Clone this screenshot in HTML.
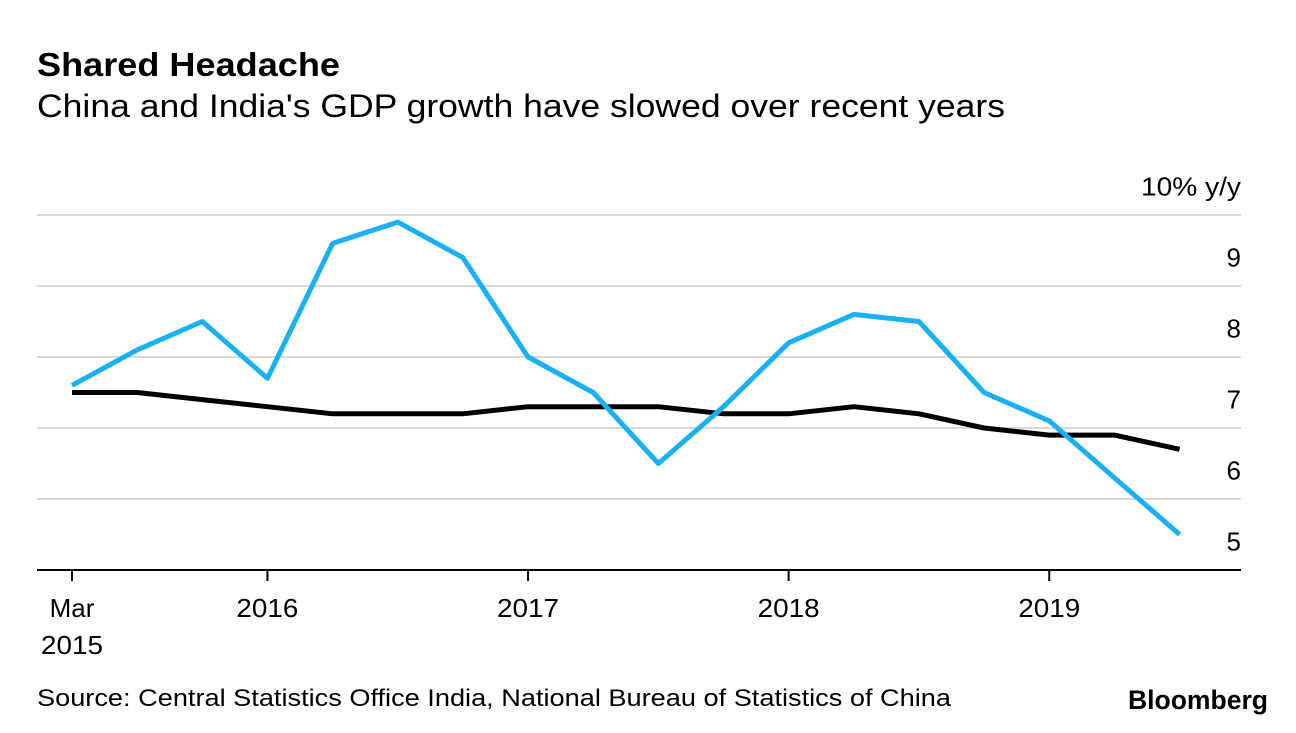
<!DOCTYPE html>
<html><head><meta charset="utf-8"><style>
body{margin:0;background:#fff;font-family:"Liberation Sans",sans-serif;}
svg text{font-family:"Liberation Sans",sans-serif;}
</style></head><body>
<svg width="1296" height="728" xmlns="http://www.w3.org/2000/svg">
<text x="37" y="76" font-size="33" font-weight="bold" fill="#000" textLength="303" lengthAdjust="spacingAndGlyphs">Shared Headache</text>
<text x="37" y="117" font-size="32" fill="#000" textLength="968" lengthAdjust="spacingAndGlyphs">China and India's GDP growth have slowed over recent years</text>
<g id="grid"></g><g id="axes"></g><g id="lines"></g>
<text x="37" y="706" font-size="24" fill="#000" textLength="914" lengthAdjust="spacingAndGlyphs">Source: Central Statistics Office India, National Bureau of Statistics of China</text>
<text x="1268" y="709" font-size="27" font-weight="bold" fill="#000" text-anchor="end" textLength="140" lengthAdjust="spacingAndGlyphs">Bloomberg</text>
</svg>
<script>
const india=[7.1,7.6,8.0,7.2,9.1,9.4,8.9,7.5,7.0,6.0,6.8,7.7,8.1,8.0,7.0,6.6,5.8,5.0];
const china=[7.0,7.0,6.9,6.8,6.7,6.7,6.7,6.8,6.8,6.8,6.7,6.7,6.8,6.7,6.5,6.4,6.4,6.2];
const yTicks=[5,6,7,8,9,10];
const gridVals=[5.5,6.5,7.5,8.5,9.5];
const xTickIdx=[0,3,7,11,15];
const xTickLabels=[["Mar","2015"],["2016"],["2017"],["2018"],["2019"]];
const NS="http://www.w3.org/2000/svg";
const X=i=>72+i*65.15;
const Y=v=>570-(v-4.5)*71;
function mk(tag,attrs,parent,text){const e=document.createElementNS(NS,tag);for(const k in attrs)e.setAttribute(k,attrs[k]);if(text!==undefined)e.textContent=text;document.getElementById(parent).appendChild(e);return e;}
gridVals.forEach(v=>{const l=mk('line',{x1:37,x2:1241,y1:Y(v),y2:Y(v),stroke:'#d9d9d9','stroke-width':2},'grid');

});
yTicks.forEach(v=>{const t=mk('text',{x:1241,y:Y(v)+16,'font-size':26,'text-anchor':'end',fill:'#000'},'axes',v===10?'10% y/y':String(v));
if(v===10){t.setAttribute('textLength','100');t.setAttribute('lengthAdjust','spacingAndGlyphs');}

});
const ax=mk('line',{x1:37,x2:1241,y1:Y(4.5),y2:Y(4.5),stroke:'#000','stroke-width':2},'axes');


xTickIdx.forEach((i,k)=>{const tk=mk('line',{x1:X(i),x2:X(i),y1:570,y2:581,stroke:'#000','stroke-width':2},'axes');


xTickLabels[k].forEach((s,j)=>{const t=mk('text',{x:X(i),y:617+j*37,'font-size':26,'text-anchor':'middle',fill:'#000'},'axes',s);
if(/^\d{4}$/.test(s)){t.setAttribute('textLength','62');t.setAttribute('lengthAdjust','spacingAndGlyphs');}

});});
function line(data,color,name){const p=mk('polyline',{points:data.map((v,i)=>X(i)+','+Y(v)).join(' '),fill:'none',stroke:color,'stroke-width':5,'stroke-linejoin':'round'},'lines');

}
line(china,'#000','china-gdp-line');
line(india,'#1ab0f5','india-gdp-line');
</script>
</body></html>
